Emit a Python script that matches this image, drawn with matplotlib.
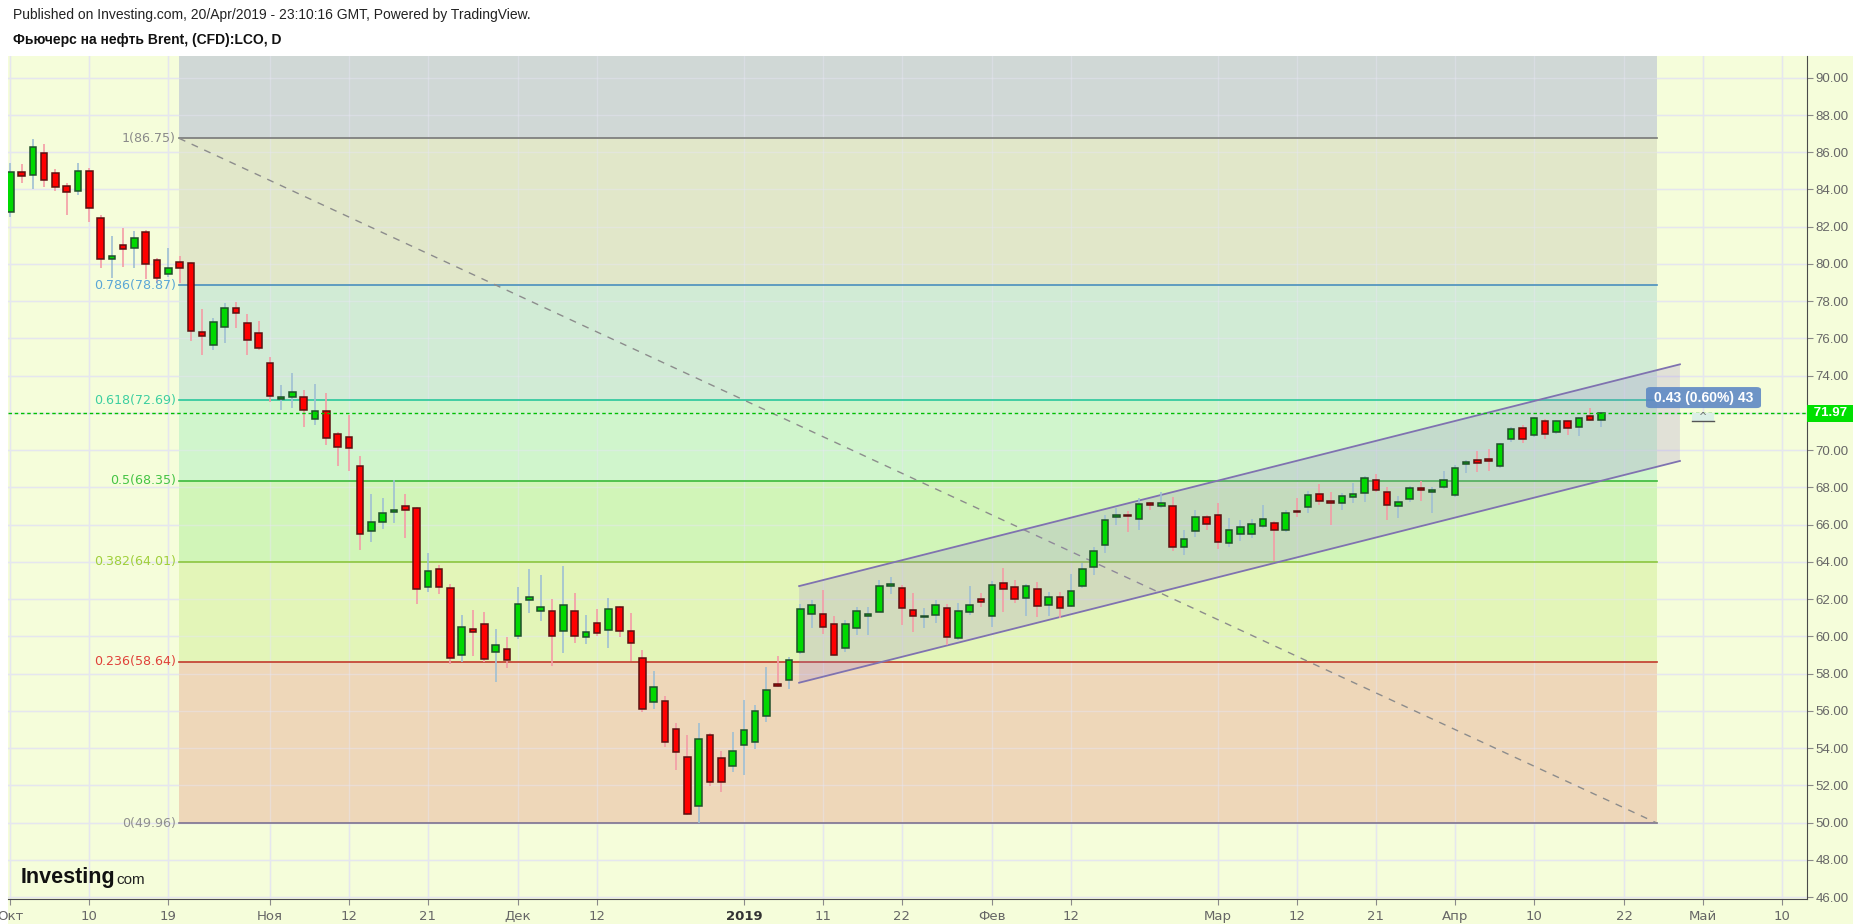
import numpy as np
import matplotlib
matplotlib.use("Agg")
import matplotlib.pyplot as plt
from matplotlib.patches import Rectangle, FancyBboxPatch, Polygon

# ---------------- data (trading-day index from 1 Oct 2018) ----------------
opens = [82.77, 84.92, 84.76, 85.94, 84.87, 84.19, 83.90, 84.97, 82.45, 80.25,
         81.00, 80.84, 81.70, 80.19, 79.45, 80.09, 80.03, 76.35, 75.67, 76.60,
         77.62, 76.81, 76.28, 74.66, 72.73, 72.84, 72.84, 71.66, 72.09, 70.85,
         70.69, 69.13, 65.64, 66.12, 66.66, 66.98, 66.88, 62.63, 63.60, 62.58,
         58.98, 60.38, 60.65, 59.14, 59.30, 60.00, 61.94, 61.35, 61.35, 60.27,
         61.35, 59.95, 60.70, 60.33, 61.56, 60.27, 58.84, 56.49, 56.51, 55.01,
         53.50, 50.87, 54.69, 53.45, 53.02, 54.15, 54.31, 55.71, 57.44, 57.64,
         59.14, 61.18, 61.18, 60.65, 59.36, 60.43, 61.08, 61.32, 62.72, 62.58,
         61.40, 61.04, 61.13, 61.51, 59.90, 61.29, 62.00, 61.08, 62.85, 62.63,
         62.04, 62.53, 61.67, 62.10, 61.61, 62.69, 63.71, 64.89, 66.39, 66.46,
         66.29, 67.08, 66.98, 66.98, 64.78, 65.64, 66.39, 66.50, 65.00, 65.48,
         65.48, 65.91, 66.07, 65.73, 66.70, 66.93, 67.63, 67.20, 67.15, 67.47,
         67.68, 68.38, 67.74, 66.98, 67.36, 67.90, 67.74, 68.01, 67.58, 69.24,
         69.46, 69.44, 69.13, 70.58, 71.17, 70.80, 71.55, 70.96, 71.55, 71.23,
         71.82, 71.60]
highs = [85.44, 85.37, 86.71, 86.44, 85.09, 84.33, 85.44, 85.15, 82.63, 81.50,
         81.91, 81.76, 81.82, 80.34, 80.86, 80.43, 80.10, 77.58, 77.10, 77.91,
         77.98, 77.30, 76.94, 74.99, 73.50, 74.13, 73.21, 73.55, 73.05, 70.99,
         71.89, 69.68, 67.64, 67.43, 68.40, 67.64, 66.96, 64.48, 63.82, 62.81,
         61.13, 61.41, 61.29, 60.39, 59.97, 62.65, 63.62, 63.30, 61.99, 63.79,
         62.32, 61.13, 61.47, 62.06, 61.63, 61.25, 59.27, 58.14, 56.80, 55.35,
         54.70, 55.35, 54.83, 53.84, 54.86, 56.58, 56.31, 58.35, 58.94, 58.89,
         61.74, 61.95, 62.49, 61.09, 60.88, 61.56, 61.58, 63.03, 63.17, 62.76,
         62.33, 61.51, 61.95, 61.74, 61.78, 62.72, 62.31, 62.96, 63.67, 63.03,
         62.80, 62.94, 62.37, 62.37, 63.33, 63.92, 64.78, 66.52, 66.88, 66.72,
         67.41, 67.20, 67.74, 67.47, 65.70, 66.77, 66.50, 67.15, 66.34, 66.23,
         66.30, 67.04, 66.20, 66.80, 67.43, 67.80, 68.20, 67.75, 67.70, 68.22,
         68.60, 68.72, 68.02, 67.55, 68.10, 68.34, 68.00, 68.90, 69.20, 69.45,
         69.96, 70.05, 70.40, 71.25, 71.33, 71.80, 71.65, 71.62, 71.62, 71.78,
         72.26, 72.05]
lows = [82.54, 84.33, 84.03, 84.15, 83.93, 82.63, 83.70, 82.27, 79.80, 79.26,
        79.85, 79.80, 79.19, 78.96, 79.31, 78.96, 75.88, 75.11, 75.38, 75.77,
        76.58, 75.11, 75.38, 72.60, 72.16, 72.25, 71.23, 71.35, 70.30, 69.17,
        68.90, 64.64, 65.07, 65.78, 66.10, 65.30, 61.75, 62.40, 62.29, 58.50,
        58.64, 58.96, 58.61, 57.55, 58.32, 59.86, 61.27, 60.84, 58.42, 59.12,
        59.66, 59.59, 60.04, 59.39, 59.98, 58.66, 55.94, 56.10, 54.07, 52.84,
        50.41, 49.96, 51.98, 51.66, 52.73, 52.55, 53.95, 55.42, 57.30, 57.17,
        59.05, 60.46, 60.13, 58.94, 59.18, 60.07, 60.09, 61.31, 62.27, 60.61,
        60.23, 60.45, 60.73, 59.54, 59.80, 61.15, 61.59, 60.52, 61.32, 61.78,
        61.11, 61.03, 61.11, 60.97, 61.55, 62.60, 63.31, 64.46, 65.98, 65.60,
        65.70, 66.80, 66.90, 64.58, 64.37, 65.32, 65.71, 64.68, 64.80, 65.10,
        65.30, 65.80, 64.05, 65.60, 66.39, 66.60, 67.04, 65.96, 66.80, 67.18,
        67.23, 67.75, 66.23, 66.37, 67.20, 67.25, 66.61, 67.90, 67.50, 68.76,
        68.84, 68.90, 69.05, 70.45, 70.37, 70.70, 70.60, 70.85, 70.81, 70.78,
        71.55, 71.23]
closes = [84.96, 84.74, 86.26, 84.52, 84.12, 83.88, 84.97, 83.01, 80.25, 80.41,
          80.79, 81.38, 80.02, 79.26, 79.77, 79.80, 76.42, 76.15, 76.87, 77.62,
          77.35, 75.90, 75.47, 72.89, 72.84, 73.14, 72.14, 72.09, 70.64, 70.15,
          70.10, 65.48, 66.12, 66.61, 66.77, 66.77, 62.53, 63.49, 62.63, 58.82,
          60.49, 60.22, 58.77, 59.52, 58.71, 61.72, 62.10, 61.56, 60.04, 61.67,
          60.00, 60.22, 60.16, 61.45, 60.27, 59.63, 56.08, 57.26, 54.34, 53.81,
          50.48, 54.47, 52.16, 52.19, 53.83, 54.95, 55.97, 57.10, 57.35, 58.71,
          61.45, 61.67, 60.49, 58.98, 60.65, 61.35, 61.18, 62.69, 62.74, 61.51,
          61.11, 61.06, 61.67, 59.95, 61.35, 61.67, 61.86, 62.74, 62.53, 61.99,
          62.69, 61.61, 62.10, 61.51, 62.42, 63.60, 64.57, 66.23, 66.50, 66.45,
          67.09, 67.07, 67.14, 64.78, 65.21, 66.39, 66.02, 65.05, 65.70, 65.86,
          66.02, 66.29, 65.73, 66.61, 66.68, 67.57, 67.25, 67.18, 67.52, 67.63,
          68.49, 67.84, 67.04, 67.20, 67.95, 67.88, 67.84, 68.38, 69.03, 69.35,
          69.29, 69.43, 70.32, 71.12, 70.58, 71.71, 70.85, 71.55, 71.17, 71.71,
          71.60, 71.97]

tick_pos = [0, 7, 14, 23, 30, 37, 45, 52, 65, 72, 79, 87, 94, 107, 114, 121, 128, 135, 143, 150, 157]
tick_labels = ["Окт", "10", "19", "Ноя", "12", "21", "Дек", "12", "2019", "11", "22",
               "Фев", "12", "Мар", "12", "21", "Апр", "10", "22", "Май", "10"]

price_ticks = [46, 48, 50, 52, 54, 56, 58, 60, 62, 64, 66, 68, 70, 74, 76, 78, 80, 82, 84, 86, 88, 90]

fib_ratios = [1.0, 0.786, 0.618, 0.5, 0.382, 0.236, 0.0]
fib_prices = [86.75, 78.87, 72.69, 68.35, 64.01, 58.64, 49.96]
fib_x = [14.95, 145.95]

channel_x = [69.9, 147.95]
channel_upper = [62.70, 74.61]
channel_lower = [57.51, 69.42]

last_price = 71.97
change_text = "0.43 (0.60%) 43"

# ---------------- figure ----------------
W, H = 1853, 924
fig = plt.figure(figsize=(W / 100, H / 100), dpi=100, facecolor="white")
BG = "#f5fdda"
fig.patches.append(Rectangle((8 / W, 0), 1 - 8 / W, 1 - 56 / H, transform=fig.transFigure,
                             facecolor=BG, edgecolor="none", zorder=-10))

ax_l, ax_r, ax_b, ax_t = 8, 1807, 899, 56
ax = fig.add_axes([ax_l / W, 1 - ax_b / H, (ax_r - ax_l) / W, (ax_b - ax_t) / H])
ax.set_facecolor(BG)
ax.set_xlim(-0.204, 159.21)
ax.set_ylim(45.894, 91.17)

# grid
for yv in np.arange(46, 92, 2):
    ax.axhline(yv, color="#e4e6ee", lw=1, zorder=0.2)
for xp in tick_pos:
    ax.axvline(xp, color="#e4e6ee", lw=1, zorder=0.2)

# fib fills
fill_cols = ["#cbd3d6", "#dfe5c7", "#cde9d5", "#cbf5cb", "#cdf5b4", "#e1f5b4", "#eed2b5"]
line_cols = ["#787878", "#4a8fbd", "#2ac79c", "#3cb93c", "#8cc63c", "#c23a2c", "#7d7390"]
lab_cols = ["#8a8a8a", "#5aa6d6", "#3ccfa0", "#44c444", "#9fcf3a", "#e0413a", "#8f8f8f"]
tops = [95.0] + fib_prices[:-1]
for i in range(len(fib_prices)):
    ax.fill_between(fib_x, [fib_prices[i]] * 2, [tops[i]] * 2, color=fill_cols[i],
                    alpha=0.88, lw=0, zorder=0.3)
for i, (r, p) in enumerate(zip(fib_ratios, fib_prices)):
    ax.plot(fib_x, [p, p], color=line_cols[i], lw=1.2, zorder=0.6)
    lab = ("%g" % r) + "(%.2f)" % p
    ax.text(fib_x[0] - 0.3, p, lab, color=lab_cols[i], fontsize=9.1, ha="right",
            va="center", family="DejaVu Sans", zorder=5)

# grid again faintly over fills
for yv in np.arange(46, 92, 2):
    ax.axhline(yv, color="#e8e8f2", lw=1, alpha=0.45, zorder=0.5)
for xp in tick_pos:
    ax.axvline(xp, color="#e8e8f2", lw=1, alpha=0.45, zorder=0.5)

# diagonal dashed trend line
ax.plot(fib_x, [fib_prices[0], fib_prices[-1]], color="#8c8c8c", lw=1.0,
        ls=(0, (5, 5)), zorder=0.7)

# parallel channel
poly = Polygon([[channel_x[0], channel_upper[0]], [channel_x[1], channel_upper[1]],
                [channel_x[1], channel_lower[1]], [channel_x[0], channel_lower[0]]],
               closed=True, facecolor="#9a7fd0", alpha=0.22, edgecolor="none", zorder=0.8)
ax.add_patch(poly)
ax.plot(channel_x, channel_upper, color="#7f72b0", lw=1.3, zorder=0.9)
ax.plot(channel_x, channel_lower, color="#7f72b0", lw=1.3, zorder=0.9)

# candles
o = np.array(opens); h = np.array(highs); l = np.array(lows); c = np.array(closes)
x = np.arange(len(o))
up = c >= o
wick_cols = np.where(up, "#9fbfd3", "#f49ca6")
ax.vlines(x, l, h, colors=wick_cols, lw=1.2, zorder=2)
body_b = np.minimum(o, c)
body_h = np.maximum(np.abs(c - o), 0.07)
ax.bar(x[up], body_h[up], bottom=body_b[up], width=0.58, color="#00d900",
       edgecolor="#1f4f2a", lw=1.1, zorder=3)
ax.bar(x[~up], body_h[~up], bottom=body_b[~up], width=0.58, color="#ff0000",
       edgecolor="#5b1010", lw=1.1, zorder=3)

# last price line
ax.axhline(last_price, color="#00c000", lw=1.0, ls=(0, (2.5, 2)), zorder=4)

# info label
bx0, bx1 = (1646 - 10.3) / 11.285, (1761 - 10.3) / 11.285
box = FancyBboxPatch((bx0, 72.26), bx1 - bx0, 1.13, boxstyle="round,pad=0,rounding_size=0.4",
                     mutation_aspect=0.35, facecolor="#5b86c4", alpha=0.88, edgecolor="none", zorder=6)
ax.add_patch(box)
ax.text((bx0 + bx1) / 2, 72.82, change_text, color="white", fontsize=10,
        ha="center", va="center", family=["Liberation Sans", "DejaVu Sans"], fontweight="bold", zorder=7)
mx = (1703 - 10.3) / 11.285
ax.add_patch(Rectangle((mx - 0.95, 71.55), 1.9, 0.42, facecolor="#dcefe6",
                       edgecolor="none", zorder=6))
ax.plot([mx - 0.95, mx + 0.95], [71.55, 71.55], color="#555555", lw=1, zorder=7)
ax.text(mx, 71.78, "^", color="#666666", fontsize=7, ha="center", va="center", zorder=7)

# axes styling
for s in ["top", "left"]:
    ax.spines[s].set_visible(False)
ax.spines["right"].set_color("#4a4a4a")
ax.spines["bottom"].set_color("#4a4a4a")
ax.yaxis.tick_right()
ax.set_yticks(price_ticks)
ax.set_yticklabels(["%.2f" % v for v in price_ticks])
ax.tick_params(axis="y", colors="#8a8a8a", labelcolor="#666666", labelsize=9.5,
               length=4, width=0.8, pad=2)
ax.set_xticks(tick_pos)
ax.set_xticklabels(tick_labels)
ax.tick_params(axis="x", colors="#8a8a8a", labelcolor="#666666", labelsize=9.5,
               length=4, width=0.8, pad=4)
for lbl in ax.get_xticklabels():
    lbl.set_family(["Liberation Sans Narrow", "DejaVu Sans"])
    if lbl.get_text() == "2019":
        lbl.set_fontweight("bold")
        lbl.set_color("#333333")
for lbl in ax.get_yticklabels():
    lbl.set_family(["Liberation Sans", "DejaVu Sans"])

# last price box on axis
ax.text(1.0015, last_price, " %.2f " % last_price, transform=ax.get_yaxis_transform(),
        ha="left", va="center", fontsize=9.5, fontweight="bold", color="white",
        family=["Liberation Sans", "DejaVu Sans"], zorder=10, clip_on=False,
        bbox=dict(boxstyle="square,pad=0.2", facecolor="#00e000", edgecolor="none"))

# header texts
fig.text(13 / W, 1 - 15 / H, "Published on Investing.com, 20/Apr/2019 - 23:10:16 GMT, Powered by TradingView.",
         fontsize=10, color="#222222", ha="left", va="center", family=["Liberation Sans", "DejaVu Sans"])
fig.text(13 / W, 1 - 40 / H, "Фьючерс на нефть Brent, (CFD):LCO, D", fontsize=10, fontweight="bold",
         color="#111111", ha="left", va="center", family=["Liberation Sans", "DejaVu Sans"])

# logo
t1 = fig.text(21 / W, 1 - 878 / H, "Investing", fontsize=15.5, fontweight="bold", color="#111111",
              ha="left", va="center", family=["Liberation Sans Narrow", "Liberation Sans", "DejaVu Sans"])
fig.canvas.draw()
bb = t1.get_window_extent()
fig.text(bb.x1 / W + 1 / W, 1 - 880 / H, "com", fontsize=11, color="#222222",
         ha="left", va="center", family=["Liberation Sans Narrow", "Liberation Sans", "DejaVu Sans"])

fig.savefig("out.png", dpi=100, facecolor="white")
